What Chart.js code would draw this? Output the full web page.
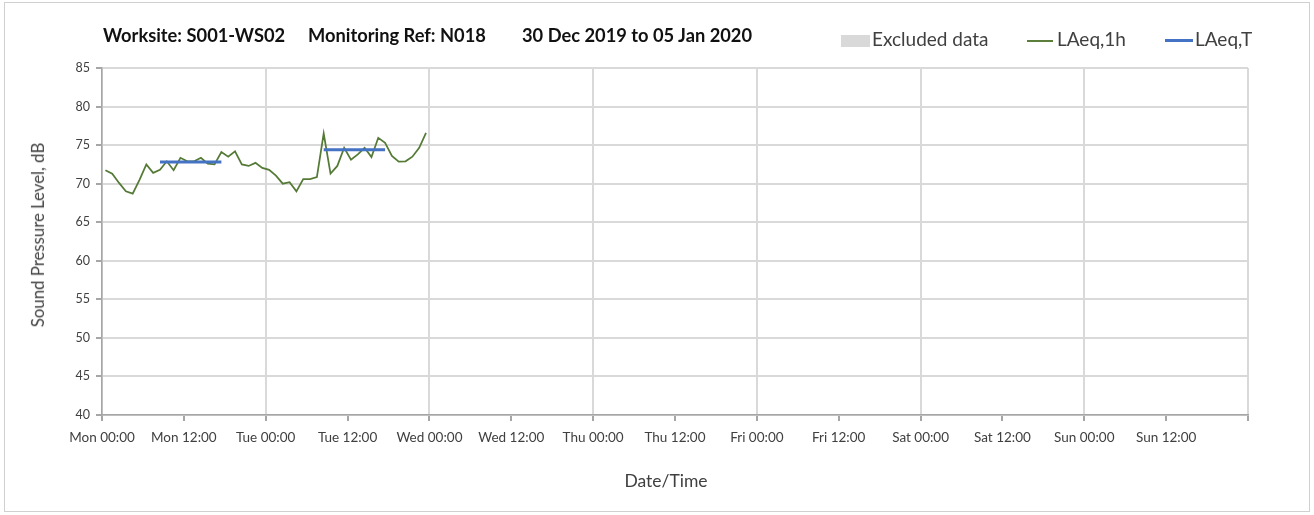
<!DOCTYPE html>
<html>
<head>
<meta charset="utf-8">
<title>Noise monitoring N018</title>
<script src="https://cdn.jsdelivr.net/npm/chart.js@4/dist/chart.umd.min.js"></script>
<style>
  body { margin: 0; background: #fff; }
  #wrap { position: relative; width: 1314px; height: 515px; font-family: Lato, "Open Sans", sans-serif; }
  #frame { position: absolute; left: 4px; top: 2px; width: 1306px; height: 510px; border: 1px solid #d0d0d0; box-sizing: border-box; }
  canvas { position: absolute; left: 0; top: 0; }
  .ttl { position: absolute; top: 25px; font-weight: bold; font-size: 18.3px; line-height: 1.2; color: #111; white-space: nowrap; }
  .lg { position: absolute; top: 28px; font-size: 19px; line-height: 1.2; color: #404040; white-space: nowrap; }
  .sw { position: absolute; }
  .axt { position: absolute; color: #404040; white-space: nowrap; line-height: 1.2; transform: translate(-50%, -50%); }
</style>
</head>
<body>
<div id="wrap">
  <div id="frame"></div>
  <canvas id="chart" width="1314" height="515"></canvas>
  <div class="ttl" style="left:103px">Worksite: S001-WS02</div>
  <div class="ttl" style="left:308px">Monitoring Ref: N018</div>
  <div class="ttl" style="left:522px">30 Dec 2019 to 05 Jan 2020</div>

  <div class="sw" style="left:841px;top:35px;width:29px;height:12px;background:#d9d9d9"></div>
  <div class="lg" style="left:872px">Excluded data</div>
  <div class="sw" style="left:1027px;top:40px;width:26px;height:1.5px;background:#5b7f3b"></div>
  <div class="lg" style="left:1057px">LAeq,1h</div>
  <div class="sw" style="left:1165px;top:39px;width:28px;height:3px;background:#4472c4"></div>
  <div class="lg" style="left:1195px">LAeq,T</div>

  <div class="axt" style="left:38px;top:235px;font-size:16.8px;transform:translate(-50%,-50%) rotate(-90deg)">Sound Pressure Level, dB</div>
  <div class="axt" style="left:666px;top:480px;font-size:17.5px">Date/Time</div>
</div>
<script>
// hourly LAeq,1h, one value per hour from Mon 00:00 (plotted mid-hour)
const laeq1h = [71.75, 71.3, 70.1, 69.0, 68.7, 70.5, 72.5, 71.4, 71.8, 72.9, 71.75, 73.35,
  72.9, 72.9, 73.35, 72.6, 72.5, 74.1, 73.5, 74.2, 72.5, 72.3, 72.7, 72.05,
  71.8, 71.05, 70.0, 70.2, 69.0, 70.6, 70.6, 70.85, 76.5, 71.3, 72.3, 74.65,
  73.1, 73.8, 74.65, 73.45, 75.95, 75.3, 73.6, 72.85, 72.9, 73.5, 74.65, 76.6];

// LAeq,T periods (hours from Mon 00:00)
const laeqTStart = [8.5, 32.5];
const laeqTEnd = [17.5, 41.5];
const laeqTValue = [72.8, 74.4];

const xTickHours = [0, 12, 24, 36, 48, 60, 72, 84, 96, 108, 120, 132, 144, 156, 168];
const xTickLabels = ['Mon 00:00', 'Mon 12:00', 'Tue 00:00', 'Tue 12:00', 'Wed 00:00', 'Wed 12:00',
  'Thu 00:00', 'Thu 12:00', 'Fri 00:00', 'Fri 12:00', 'Sat 00:00', 'Sat 12:00',
  'Sun 00:00', 'Sun 12:00', ''];
const yTicks = [40, 45, 50, 55, 60, 65, 70, 75, 80, 85];

const hourlyPoints = laeq1h.map((v, i) => ({ x: i + 0.5, y: v }));
const periodPoints = [];
laeqTValue.forEach((v, i) => {
  if (i > 0) periodPoints.push({ x: (laeqTEnd[i - 1] + laeqTStart[i]) / 2, y: null });
  periodPoints.push({ x: laeqTStart[i], y: v });
  periodPoints.push({ x: laeqTEnd[i], y: v });
});

const fontFam = 'Lato, "Open Sans", sans-serif';

new Chart(document.getElementById('chart'), {
  type: 'line',
  data: {
    datasets: [
      {
        label: 'LAeq,T',
        data: periodPoints,
        borderColor: '#4472c4',
        borderWidth: 3,
        pointRadius: 0,
        spanGaps: false
      },
      {
        label: 'LAeq,1h',
        data: hourlyPoints,
        borderColor: '#557a36',
        borderWidth: 1.75,
        pointRadius: 0,
        tension: 0
      }
    ]
  },
  options: {
    responsive: false,
    animation: false,
    layout: { padding: { top: 68, right: 66, left: 0, bottom: 0 } },
    plugins: { legend: { display: false }, tooltip: { enabled: false } },
    scales: {
      x: {
        type: 'linear',
        min: 0,
        max: 168,
        afterFit: s => { s.height = 100; },
        afterBuildTicks: s => { s.ticks = xTickHours.map(v => ({ value: v })); },
        ticks: {
          autoSkip: false, maxRotation: 0, padding: 9,
          font: { family: fontFam, size: 13.5 }, color: '#404040',
          callback: (v, i) => xTickLabels[i]
        },
        grid: {
          color: c => (c.tick && c.tick.value % 24 === 0) ? '#d9d9d9' : 'rgba(0,0,0,0)',
          lineWidth: 2, tickColor: '#a6a6a6', tickLength: 6
        },
        border: { color: '#a6a6a6', width: 1.5 }
      },
      y: {
        min: 40,
        max: 85,
        afterFit: s => { s.width = 102; },
        afterBuildTicks: s => { s.ticks = yTicks.map(v => ({ value: v })); },
        ticks: { padding: 6, font: { family: fontFam, size: 12.5 }, color: '#404040' },
        grid: { color: '#d9d9d9', lineWidth: 2, tickColor: '#a6a6a6', tickLength: 6 },
        border: { color: '#a6a6a6', width: 1.5 }
      }
    }
  }
});
</script>
</body>
</html>
